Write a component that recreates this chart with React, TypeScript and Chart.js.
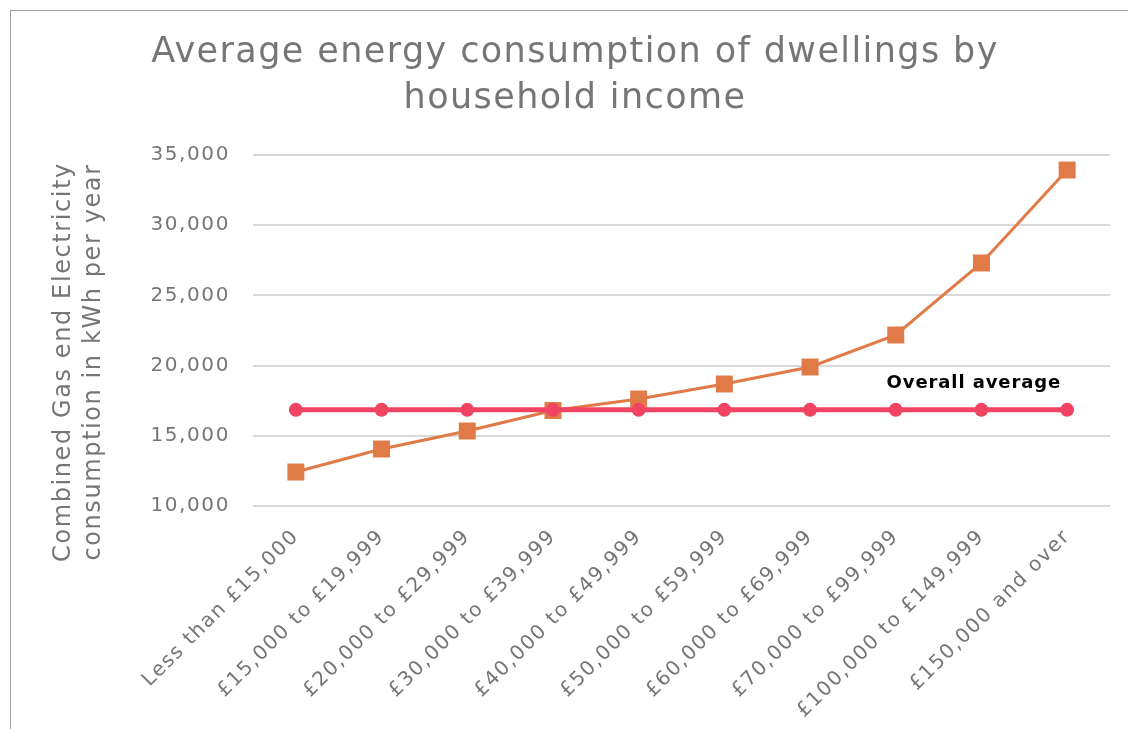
import React, { useEffect, useRef } from "react";
import { Chart, registerables } from "chart.js";

Chart.register(...registerables);

const categories = [
  "Less than £15,000",
  "£15,000 to £19,999",
  "£20,000 to £29,999",
  "£30,000 to £39,999",
  "£40,000 to £49,999",
  "£50,000 to £59,999",
  "£60,000 to £69,999",
  "£70,000 to £99,999",
  "£100,000 to £149,999",
  "£150,000 and over",
];
const consumption = [12420, 14060, 15340, 16800, 17620, 18690, 19900, 22180, 27310, 33930];
const overallAverageValue = 16850;
const overallAverage = categories.map(() => overallAverageValue);
const titleLines = ["Average energy consumption of dwellings by", "household income"];
const yTitleLines = ["Combined Gas end Electricity", "consumption in kWh per year"];
const averageLabel = "Overall average";

const FONT = "'DejaVu Sans', sans-serif";
const GRAY = "#767676";

const spacingPlugin = {
  id: "spacing",
  beforeUpdate(chart: any) {
    chart.ctx.letterSpacing = "1.6px";
  },
  beforeDraw(chart: any) {
    chart.ctx.letterSpacing = "1.6px";
  },
};

const textPlugin = {
  id: "customText",
  afterDraw(chart: any) {
    const ctx = chart.ctx;
    const w = chart.width;
    ctx.save();
    // title
    ctx.fillStyle = GRAY;
    ctx.font = `35px ${FONT}`;
    ctx.letterSpacing = "1.4px";
    ctx.textAlign = "center";
    ctx.textBaseline = "middle";
    ctx.fillText(titleLines[0], w / 2, 42);
    ctx.fillText(titleLines[1], w / 2, 88);
    // y axis title
    ctx.save();
    ctx.translate(53, 351);
    ctx.rotate(-Math.PI / 2);
    ctx.font = `24px ${FONT}`;
    ctx.letterSpacing = "1.6px";
    ctx.fillText(yTitleLines[0], 0, 0);
    ctx.fillText(yTitleLines[1], 0, 30);
    ctx.restore();
    // overall average label
    const meta = chart.getDatasetMeta(1);
    const last = meta.data[meta.data.length - 1];
    ctx.fillStyle = "#000000";
    ctx.font = `bold 18px ${FONT}`;
    ctx.letterSpacing = "0.9px";
    ctx.textAlign = "right";
    ctx.fillText(averageLabel, last.x - 6, last.y - 26);
    ctx.restore();
  },
};

export default function App() {
  const ref = useRef<HTMLCanvasElement>(null);
  useEffect(() => {
    document.body.style.overflow = "hidden";
    const chart = new Chart(ref.current!, {
      type: "line",
      data: {
        labels: categories,
        datasets: [
          {
            label: "Consumption",
            data: consumption,
            borderColor: "#E07A47",
            backgroundColor: "#E07A47",
            borderWidth: 3,
            pointStyle: "rect",
            pointRadius: 12,
            pointBorderWidth: 0,
            order: 2,
          },
          {
            label: "Overall average",
            data: overallAverage,
            borderColor: "#F04462",
            backgroundColor: "#F04462",
            borderWidth: 5,
            pointStyle: "circle",
            pointRadius: 7,
            pointBorderWidth: 0,
            order: 1,
          },
        ],
      },
      options: {
        animation: false,
        responsive: false,
        layout: { padding: { left: 0, top: 144, right: 29, bottom: 0 } },
        plugins: {
          legend: { display: false },
          title: { display: false },
          tooltip: { enabled: false },
        },
        scales: {
          x: {
            offset: true,
            grid: { display: false, drawTicks: false },
            border: { display: false },
            ticks: {
              color: GRAY,
              font: { family: FONT, size: 20 },
              minRotation: 45,
              maxRotation: 45,
              padding: 19,
              autoSkip: false,
            },
            afterFit: (s: any) => {
              s.height = 223;
            },
          },
          y: {
            min: 10000,
            max: 35000,
            grid: { color: "#D9D9D9", lineWidth: 2, drawTicks: false },
            border: { display: false },
            ticks: {
              stepSize: 5000,
              color: GRAY,
              font: { family: FONT, size: 20 },
              padding: 23,
            },
            afterFit: (s: any) => {
              s.width = 242;
            },
          },
        },
      },
      plugins: [spacingPlugin, textPlugin],
    });
    return () => chart.destroy();
  }, []);
  return (
    <div
      style={{
        position: "fixed",
        left: 10,
        top: 10,
        width: 1140,
        height: 740,
        border: "1px solid #A0A0A0",
        background: "#fff",
        overflow: "hidden",
      }}
    >
      <canvas ref={ref} width={1128} height={718} style={{ display: "block" }} />
    </div>
  );
}
